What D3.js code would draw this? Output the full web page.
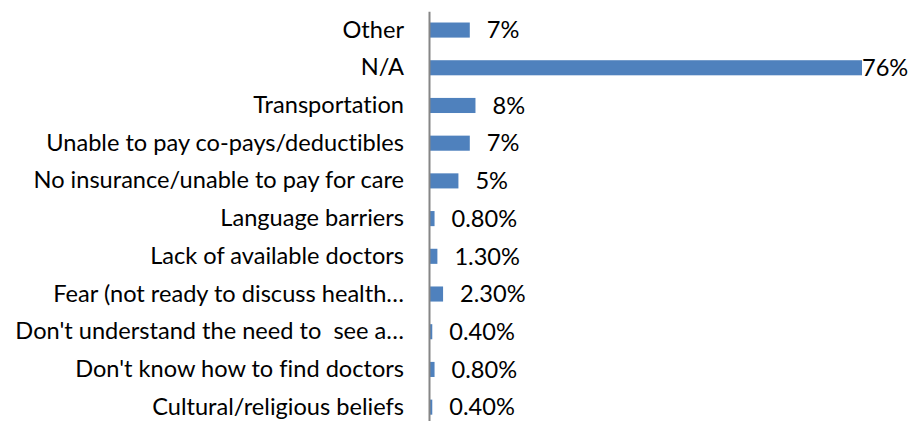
<!DOCTYPE html>
<html lang="en">
    <head>
        <meta charset="utf-8">
        <title>Barriers</title>
        <script src="https://d3js.org/d3.v7.min.js"></script>
        <style type="text/css">
            body { margin: 0; background: #fff; }
            text { font-family: Lato, "Open Sans", sans-serif; white-space: pre; font-variant-ligatures: none; }
        </style>
    </head>
    <body>
        <script type="text/javascript">

            //1. consts
            const svgW = 908;
            const svgH = 421;
            const axisX = 430;
            const fontSize = "23.6px";

            //2. data
            const categories = [
                "Other", "N/A", "Transportation", "Unable to pay co-pays/deductibles",
                "No insurance/unable to pay for care", "Language barriers",
                "Lack of available doctors", "Fear (not ready to discuss health\u2026",
                "Don't understand the need to  see a\u2026", "Don't know how to find doctors",
                "Cultural/religious beliefs"
            ];
            const values = [7, 76, 8, 7, 5, 0.8, 1.3, 2.3, 0.4, 0.8, 0.4];
            const valueLabels = ["7%", "76%", "8%", "7%", "5%", "0.80%", "1.30%", "2.30%", "0.40%", "0.80%", "0.40%"];

            //3. scales
            const xScale = d3.scaleLinear()
                            .domain([0, 76])
                            .range([axisX, 862]);

            const yScale = d3.scaleBand()
                            .domain(categories)
                            .range([11.2, 426])
                            .paddingInner(0.6)
                            .paddingOuter(0.3);

            //4. svg
            const svg = d3.select("body")
                        .append("svg")
                        .attr("width", svgW)
                        .attr("height", svgH);

            svg.selectAll("rect")
                .data(values)
                .enter()
                .append("rect")
                .attr("x", xScale(0))
                .attr("y", (d, i) => yScale(categories[i]))
                .attr("width", d => xScale(d) - xScale(0))
                .attr("height", yScale.bandwidth())
                .attr("fill", "#4F81BD");

            // value labels, the big one is pushed back inside the plot
            svg.selectAll("text.val")
                .data(values)
                .enter()
                .append("text")
                .attr("class", "val")
                .text((d, i) => valueLabels[i])
                .attr("x", d => xScale(d) + 17 > 840 ? xScale(d) : xScale(d) + 17)
                .attr("y", (d, i) => yScale(categories[i]) + yScale.bandwidth() / 2)
                .attr("dy", "0.35em")
                .attr("font-size", fontSize)
                .attr("fill", "#000");

            //left axis
            const leftAxis = d3.axisLeft()
                                .scale(yScale)
                                .tickSize(0)
                                .tickPadding(25);

            const g = svg.append("g")
                .attr("transform", "translate(" + (axisX - 1) + ",0)")
                .call(leftAxis);

            g.select(".domain")
                .attr("stroke", "#868686")
                .attr("stroke-width", 2);

            g.selectAll("text")
                .attr("font-size", fontSize)
                .attr("fill", "#000");

        </script>
    </body>
</html>
